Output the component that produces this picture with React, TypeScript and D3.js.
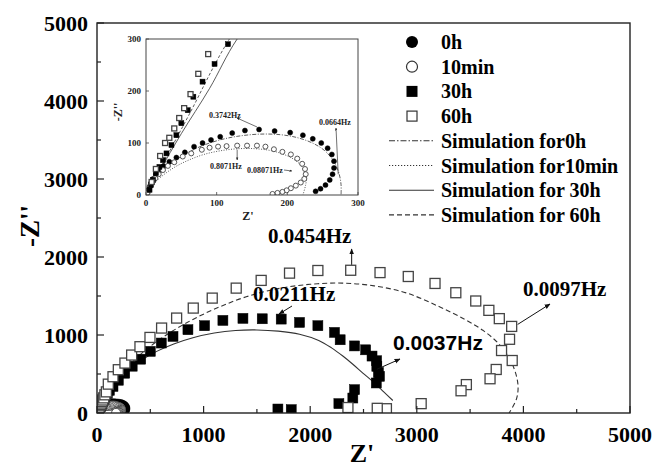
import React, { useEffect, useRef } from 'react';
import * as d3 from 'd3';

type Pt = [number, number];

// axis ticks
const mainTicks = [0, 1000, 2000, 3000, 4000, 5000];
const insetTicks = [0, 100, 200, 300];

// measured points (Z', -Z'')
const pts0h: Pt[] = [
  [2, 3], [3, 9], [5, 16], [7, 23], [10, 31], [14, 40], [19, 48], [25, 56], [33, 64], [43, 72],
  [55, 82], [68, 93], [80, 100], [92, 106], [105, 112], [122, 119], [140, 124], [160, 126],
  [182, 123], [204, 120], [222, 115], [236, 108], [248, 100], [257, 90], [263, 78], [266, 65],
  [266, 52], [264, 40], [260, 29], [254, 19], [247, 12], [240, 7],
];
const pts10min: Pt[] = [
  [2, 4], [4, 10], [6, 17], [9, 24], [13, 32], [18, 40], [24, 48], [31, 56], [40, 63], [52, 74],
  [64, 80], [79, 87], [90, 91], [102, 93], [114, 94], [129, 95], [143, 95], [157, 95], [169, 93],
  [181, 88], [193, 83], [205, 78], [214, 70], [221, 60], [225, 50], [226, 40], [224, 31],
  [219, 24], [212, 18], [205, 13], [199, 9], [193, 6], [186, 4], [179, 2],
];
const pts30h: Pt[] = [
  [5, 10], [7, 19], [10, 29], [14, 42], [19, 54], [24, 67], [29, 80], [36, 96], [43, 115], [50, 138],
  [59, 163], [67, 189], [80, 218], [97, 252], [116, 290], [150, 340], [200, 420], [260, 510],
  [330, 600], [410, 690], [500, 790], [603, 897], [713, 982], [853, 1068], [1009, 1119],
  [1181, 1187], [1369, 1213], [1550, 1208], [1728, 1204], [1900, 1161], [2072, 1119],
  [2228, 1033], [2281, 939], [2416, 860], [2520, 810], [2580, 730], [2623, 670], [2625, 598],
  [2640, 520], [2650, 470], [2620, 385], [2416, 299], [2400, 192], [2269, 120], [1822, 43],
  [1697, 51],
];
const pts60h: Pt[] = [
  [8, 25], [14, 50], [20, 75], [27, 100], [33, 110], [40, 128], [47, 148], [54, 167], [63, 194],
  [74, 233], [88, 271], [106, 370], [150, 465], [200, 555], [262, 640], [325, 743], [403, 850],
  [497, 969], [606, 1089], [747, 1217], [903, 1345], [1081, 1473], [1306, 1601], [1540, 1700],
  [1806, 1793], [2072, 1827], [2380, 1830], [2655, 1800], [2920, 1750], [3171, 1661],
  [3366, 1542], [3553, 1436], [3676, 1316], [3774, 1210], [3890, 1110], [3870, 945],
  [3795, 801], [3895, 673], [3745, 558], [3687, 439], [3465, 364], [3415, 285], [3041, 120],
  [2715, 55], [2629, 60], [2354, 70],
];

// fitted curves
const sim0h: Pt[] = [
  [0, 0], [4, 10], [10, 24], [18, 38], [28, 52], [42, 67], [60, 82], [80, 95], [105, 106],
  [130, 113], [160, 117], [190, 116], [215, 110], [237, 99], [254, 84], [266, 64], [273, 42],
  [276, 20], [276, 0],
];
const sim10min: Pt[] = [
  [0, 0], [4, 9], [10, 20], [18, 31], [30, 44], [45, 57], [62, 68], [82, 78], [105, 85],
  [130, 89], [155, 89], [178, 85], [197, 77], [212, 66], [222, 52], [227, 37], [226, 20], [222, 0],
];
const sim30h: Pt[] = [
  [0, 0], [20, 48], [50, 118], [90, 205], [129, 300], [200, 420], [300, 560], [420, 680],
  [560, 790], [720, 885], [900, 965], [1100, 1025], [1300, 1058], [1500, 1065], [1700, 1050],
  [1900, 1010], [2080, 930], [2200, 835], [2306, 730], [2400, 625], [2494, 512], [2603, 384],
  [2690, 270], [2775, 160],
];
const sim60h: Pt[] = [
  [0, 0], [25, 63], [60, 152], [118, 300], [200, 455], [300, 610], [450, 800], [650, 1000],
  [900, 1200], [1150, 1360], [1400, 1490], [1700, 1595], [2000, 1650], [2300, 1665],
  [2600, 1630], [2900, 1540], [3200, 1370], [3450, 1200], [3620, 1060], [3760, 900],
  [3860, 720], [3925, 520], [3950, 340], [3935, 180], [3866, 0],
];

const legendLabels = [
  '0h', '10min', '30h', '60h',
  'Simulation for0h', 'Simulation for10min', 'Simulation for 30h', 'Simulation for 60h',
];

const SERIF = "'Liberation Serif', 'Times New Roman', serif";
const SANS = "'Liberation Sans', Arial, sans-serif";

const lineStyles = {
  dashdot: '6,2,1.5,2',
  dotted: '1.2,1.8',
  solid: '',
  dashed: '5,3',
};

const App = () => {
  const svgRef = useRef<SVGSVGElement>(null);

  useEffect(() => {
    const svg = d3.select(svgRef.current);
    svg.selectAll('*').remove();

    const defs = svg.append('defs');
    defs.append('marker')
      .attr('id', 'arr')
      .attr('viewBox', '0 0 10 10')
      .attr('refX', 9).attr('refY', 5)
      .attr('markerWidth', 6).attr('markerHeight', 6)
      .attr('orient', 'auto')
      .append('path').attr('d', 'M0,1 L10,5 L0,9 Z').attr('fill', '#111');
    defs.append('marker')
      .attr('id', 'arrS')
      .attr('viewBox', '0 0 10 10')
      .attr('refX', 9).attr('refY', 5)
      .attr('markerWidth', 4).attr('markerHeight', 4)
      .attr('orient', 'auto')
      .append('path').attr('d', 'M0,1 L10,5 L0,9 Z').attr('fill', '#222');

    const x = d3.scaleLinear().domain([0, 5000]).range([97, 630]);
    const y = d3.scaleLinear().domain([0, 5000]).range([413, 23]);
    const ix = d3.scaleLinear().domain([0, 300]).range([146, 358]);
    const iy = d3.scaleLinear().domain([0, 300]).range([195, 39]);

    defs.append('clipPath').attr('id', 'mainClip')
      .append('rect').attr('x', 97).attr('y', 23).attr('width', 533).attr('height', 390);
    defs.append('clipPath').attr('id', 'insetClip')
      .append('rect').attr('x', 146).attr('y', 39).attr('width', 212).attr('height', 156);

    const drawCurve = (g, pts: Pt[], sx, sy, dash: string, w: number) => {
      const line = d3.line<Pt>()
        .x((d) => sx(d[0]))
        .y((d) => sy(d[1]))
        .curve(d3.curveCatmullRom.alpha(0.5));
      g.append('path')
        .attr('d', line(pts))
        .attr('fill', 'none')
        .attr('stroke', '#333')
        .attr('stroke-width', w)
        .attr('stroke-dasharray', dash || null);
    };

    const drawPoints = (g, pts: Pt[], sx, sy, shape: string, filled: boolean, size: number) => {
      if (shape === 'circle') {
        g.selectAll(null).data(pts).join('circle')
          .attr('cx', (d) => sx(d[0]))
          .attr('cy', (d) => sy(d[1]))
          .attr('r', size / 2)
          .attr('fill', filled ? '#000' : '#fff')
          .attr('stroke', filled ? '#000' : '#444')
          .attr('stroke-width', filled ? 0.5 : 0.9);
      } else {
        g.selectAll(null).data(pts).join('rect')
          .attr('x', (d) => sx(d[0]) - size / 2)
          .attr('y', (d) => sy(d[1]) - size / 2)
          .attr('width', size)
          .attr('height', size)
          .attr('fill', filled ? '#000' : '#fff')
          .attr('stroke', filled ? '#000' : '#444')
          .attr('stroke-width', filled ? 0.5 : 1.3);
      }
    };

    // ---- main plot
    const plot = svg.append('g').attr('clip-path', 'url(#mainClip)');
    drawCurve(plot, sim0h, x, y, lineStyles.dashdot, 1);
    drawCurve(plot, sim10min, x, y, lineStyles.dotted, 1);
    drawCurve(plot, sim30h, x, y, lineStyles.solid, 1.1);
    drawCurve(plot, sim60h, x, y, lineStyles.dashed, 1.1);
    drawPoints(plot, pts0h, x, y, 'circle', true, 9);
    drawPoints(plot, pts10min, x, y, 'circle', false, 9);
    drawPoints(plot, pts30h, x, y, 'square', true, 10);
    drawPoints(plot, pts60h, x, y, 'square', false, 10);

    // frame and ticks
    svg.append('rect')
      .attr('x', 97).attr('y', 23).attr('width', 533).attr('height', 390)
      .attr('fill', 'none').attr('stroke', '#222').attr('stroke-width', 1.4);
    const minor = d3.range(0, 5001, 500);
    minor.forEach((v) => {
      const len = v % 1000 === 0 ? 7 : 4;
      svg.append('line')
        .attr('x1', x(v)).attr('x2', x(v)).attr('y1', 413).attr('y2', 413 - len)
        .attr('stroke', '#222').attr('stroke-width', 1.2);
      svg.append('line')
        .attr('x1', 97).attr('x2', 97 + len).attr('y1', y(v)).attr('y2', y(v))
        .attr('stroke', '#222').attr('stroke-width', 1.2);
    });
    svg.append('g').selectAll('text').data(mainTicks).join('text')
      .attr('x', (d) => x(d)).attr('y', 442)
      .attr('text-anchor', 'middle')
      .attr('font-family', SERIF).attr('font-weight', 'bold').attr('font-size', 22)
      .text((d) => d);
    svg.append('g').selectAll('text').data(mainTicks).join('text')
      .attr('x', 88).attr('y', (d) => y(d) + 7.5)
      .attr('text-anchor', 'end')
      .attr('font-family', SERIF).attr('font-weight', 'bold').attr('font-size', 22)
      .text((d) => d);
    svg.append('text')
      .attr('x', 362).attr('y', 462)
      .attr('text-anchor', 'middle')
      .attr('font-family', SERIF).attr('font-weight', 'bold').attr('font-size', 26)
      .text("Z'");
    svg.append('text')
      .attr('transform', 'translate(39,226) rotate(-90)')
      .attr('text-anchor', 'middle')
      .attr('font-family', SERIF).attr('font-weight', 'bold').attr('font-size', 27)
      .text("-Z''");

    // frequency labels
    const ann = svg.append('g');
    const bigLabel = (tx: number, ty: number, s: string, fam: string) =>
      ann.append('text').attr('x', tx).attr('y', ty)
        .attr('font-family', fam).attr('font-weight', 'bold').attr('font-size', 21)
        .text(s);
    bigLabel(268, 243, '0.0454Hz', SERIF);
    bigLabel(253, 301, '0.0211Hz', SERIF);
    bigLabel(393, 350, '0.0037Hz', SANS);
    bigLabel(523, 296, '0.0097Hz', SERIF);
    const arrow = (x1: number, y1: number, x2: number, y2: number, m = 'arr') =>
      ann.append('line')
        .attr('x1', x1).attr('y1', y1).attr('x2', x2).attr('y2', y2)
        .attr('stroke', '#111').attr('stroke-width', 1)
        .attr('marker-end', `url(#${m})`);
    arrow(x(2389), y(1823) - 6, x(2389), 249);
    arrow(292, 306, 279, 314);
    arrow(x(2625), y(560), 400, 359);
    arrow(x(3890) + 6, y(1110) - 2, 550, 304);

    // ---- inset
    svg.append('rect')
      .attr('x', 146).attr('y', 39).attr('width', 212).attr('height', 156)
      .attr('fill', '#fff');
    const ins = svg.append('g').attr('clip-path', 'url(#insetClip)');
    drawCurve(ins, sim0h, ix, iy, '4,1.5,1,1.5', 0.8);
    drawCurve(ins, sim10min, ix, iy, '1,1.5', 0.8);
    drawCurve(ins, sim30h, ix, iy, '', 0.8);
    drawCurve(ins, sim60h, ix, iy, '3,2', 0.8);
    drawPoints(ins, pts0h, ix, iy, 'circle', true, 5);
    drawPoints(ins, pts10min, ix, iy, 'circle', false, 5);
    drawPoints(ins, pts30h, ix, iy, 'square', true, 5);
    drawPoints(ins, pts60h, ix, iy, 'square', false, 5);

    svg.append('rect')
      .attr('x', 146).attr('y', 39).attr('width', 212).attr('height', 156)
      .attr('fill', 'none').attr('stroke', '#444').attr('stroke-width', 1);
    insetTicks.forEach((v) => {
      svg.append('line')
        .attr('x1', ix(v)).attr('x2', ix(v)).attr('y1', 195).attr('y2', 192)
        .attr('stroke', '#444').attr('stroke-width', 0.8);
      svg.append('line')
        .attr('x1', 146).attr('x2', 149).attr('y1', iy(v)).attr('y2', iy(v))
        .attr('stroke', '#444').attr('stroke-width', 0.8);
    });

    // small text in its own layer (grayscale antialiasing)
    const small = svg.append('g').style('opacity', 0.995);
    small.selectAll('text.ixl').data(insetTicks).join('text')
      .attr('class', 'ixl')
      .attr('x', (d) => ix(d)).attr('y', 206)
      .attr('text-anchor', 'middle')
      .attr('font-family', SERIF).attr('font-weight', 'bold').attr('font-size', 9)
      .attr('fill', '#222')
      .text((d) => d);
    small.selectAll('text.iyl').data(insetTicks).join('text')
      .attr('class', 'iyl')
      .attr('x', 141).attr('y', (d) => iy(d) + 3)
      .attr('text-anchor', 'end')
      .attr('font-family', SERIF).attr('font-weight', 'bold').attr('font-size', 9)
      .attr('fill', '#222')
      .text((d) => d);
    small.append('text')
      .attr('x', 248).attr('y', 220)
      .attr('text-anchor', 'middle')
      .attr('font-family', SERIF).attr('font-weight', 'bold').attr('font-size', 12)
      .attr('fill', '#222')
      .text("Z'");
    small.append('text')
      .attr('transform', 'translate(122,112) rotate(-90)')
      .attr('text-anchor', 'middle')
      .attr('font-family', SERIF).attr('font-weight', 'bold').attr('font-size', 12)
      .attr('fill', '#222')
      .text("-Z''");

    const smallLabel = (tx: number, ty: number, s: string) =>
      small.append('text').attr('x', tx).attr('y', ty)
        .attr('font-family', SERIF).attr('font-weight', 'bold').attr('font-size', 8)
        .attr('fill', '#222')
        .text(s);
    smallLabel(209, 118, '0.3742Hz');
    smallLabel(210, 169, '0.8071Hz');
    smallLabel(247, 173, '0.08071Hz');
    smallLabel(319, 125, '0.0664Hz');
    const smallArrow = (x1: number, y1: number, x2: number, y2: number) =>
      small.append('line')
        .attr('x1', x1).attr('y1', y1).attr('x2', x2).attr('y2', y2)
        .attr('stroke', '#333').attr('stroke-width', 0.7)
        .attr('marker-end', 'url(#arrS)');
    smallArrow(ix(160) - 2, iy(125) - 3, 237, 118);
    smallArrow(ix(129), iy(95) + 4, ix(129), 160);
    smallArrow(284, 170, 292, 171);
    smallArrow(ix(272), iy(40), 336, 128);

    // ---- legend
    const lg = svg.append('g');
    const lx = 412;
    const ly0 = 42;
    const step = 24.7;
    legendLabels.forEach((lab, i) => {
      const yy = ly0 + i * step;
      if (i === 0) lg.append('circle').attr('cx', lx).attr('cy', yy).attr('r', 6).attr('fill', '#000');
      if (i === 1) lg.append('circle').attr('cx', lx).attr('cy', yy).attr('r', 5.5)
        .attr('fill', '#fff').attr('stroke', '#333').attr('stroke-width', 1.2);
      if (i === 2) lg.append('rect').attr('x', lx - 5.5).attr('y', yy - 5.5).attr('width', 11).attr('height', 11).attr('fill', '#000');
      if (i === 3) lg.append('rect').attr('x', lx - 5).attr('y', yy - 5).attr('width', 10).attr('height', 10)
        .attr('fill', '#fff').attr('stroke', '#333').attr('stroke-width', 1.2);
      if (i >= 4) {
        const dash = [lineStyles.dashdot, lineStyles.dotted, lineStyles.solid, lineStyles.dashed][i - 4];
        lg.append('line')
          .attr('x1', lx - 23).attr('x2', lx + 22).attr('y1', yy).attr('y2', yy)
          .attr('stroke', '#333').attr('stroke-width', 1.1)
          .attr('stroke-dasharray', dash || null);
      }
      lg.append('text')
        .attr('x', 441).attr('y', yy + 7)
        .attr('font-family', SERIF).attr('font-weight', 'bold').attr('font-size', 20)
        .text(lab);
    });
  }, []);

  return (
    <svg
      ref={svgRef}
      width={654}
      height={468}
      style={{ position: 'absolute', left: 0, top: 0, background: '#fff' }}
    />
  );
};

export default App;
